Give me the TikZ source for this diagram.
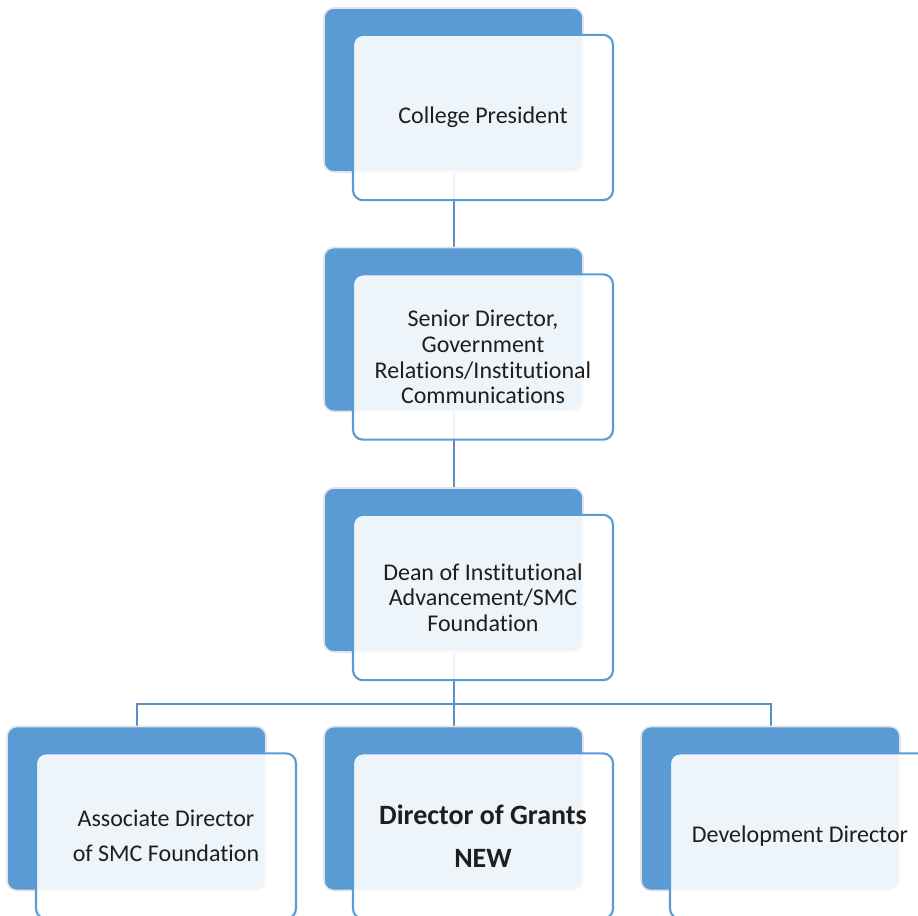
\documentclass[tikz,border=0pt]{standalone}
\usepackage{fontspec}
\setmainfont{Carlito}[Ligatures={NoCommon}]
\definecolor{officeblue}{HTML}{5B9BD5}
\definecolor{connblue}{HTML}{5A8CC8}
\definecolor{txtgray}{HTML}{1E1E1E}
\definecolor{edgegray}{HTML}{E4E4E4}
\begin{document}
\begin{tikzpicture}[x=0.75pt,y=-0.75pt,
  backbox/.style={rectangle,rounded corners=7.5pt,fill=officeblue,draw=edgegray,line width=1.2pt,
    minimum width=194.25pt,minimum height=123pt,inner sep=0pt},
  frontbox/.style={rectangle,rounded corners=7.5pt,fill=white,fill opacity=0.9,text opacity=1,
    draw=officeblue,line width=1.6pt,minimum width=195pt,minimum height=124pt,inner sep=2pt,
    align=center,text=txtgray,font=\fontsize{18}{19.3}\selectfont},
  conn/.style={draw=connblue,line width=1.5pt}]
\useasboundingbox (0,0) rectangle (918,915);
\clip (0,0) rectangle (918,915);
% back boxes positions
\coordinate (p1) at (453.5,90);
\coordinate (p2) at (453.5,329.5);
\coordinate (p3) at (453.5,570);
\coordinate (pL) at (136.5,808.5);
\coordinate (pM) at (453.5,808.5);
\coordinate (pR) at (770.5,808.5);
\coordinate (bus) at (453.5,704);
% connectors (drawn first, seen through the front boxes)
\draw[conn] (p1) -- (p2);
\draw[conn] (p2) -- (p3);
\draw[conn] (p3) -- (pM);
\draw[conn] (pL) |- (bus) -| (pR);
% back boxes
\node[backbox] (b1) at (p1) {};
\node[backbox] (b2) at (p2) {};
\node[backbox] (b3) at (p3) {};
\node[backbox] (bL) at (pL) {};
\node[backbox] (bM) at (pM) {};
\node[backbox] (bR) at (pR) {};
% front boxes with text
\node[frontbox] (f1) at ([xshift=29.5*0.75pt,yshift=-27.5*0.75pt]b1.center) {College President};
\node[frontbox] (f2) at ([xshift=29.5*0.75pt,yshift=-27.5*0.75pt]b2.center) {Senior Director,\\Government\\Relations/Institutional\\Communications};
\node[frontbox] (f3) at ([xshift=29.5*0.75pt,yshift=-27.5*0.75pt]b3.center) {Dean of Institutional\\Advancement/SMC\\Foundation};
\node[frontbox,font=\fontsize{18}{26}\selectfont] (fL) at ([xshift=29.5*0.75pt,yshift=-27.5*0.75pt]bL.center) {Associate Director\\of SMC Foundation};
\node[frontbox,font=\fontsize{21}{32.3}\selectfont\bfseries] (fM) at ([xshift=29.5*0.75pt,yshift=-27.5*0.75pt]bM.center) {Director of Grants\\NEW};
\node[frontbox] (fR) at ([xshift=29.5*0.75pt,yshift=-27.5*0.75pt]bR.center) {Development Director};
\end{tikzpicture}
\end{document}
